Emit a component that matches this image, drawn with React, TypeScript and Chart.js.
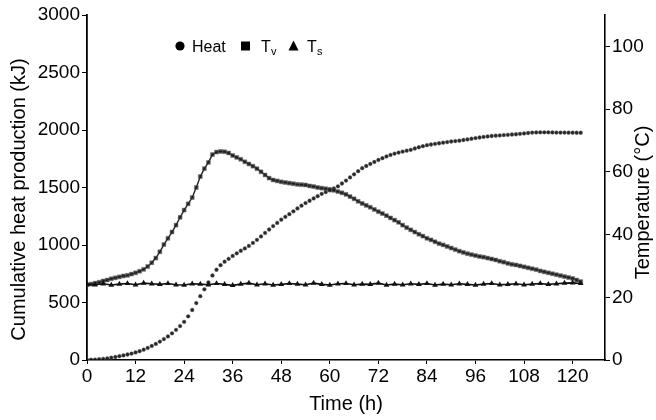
import { useEffect, useRef } from 'react';
import { Chart, registerables } from 'chart.js';
Chart.register(...registerables);

// Heat (cumulative heat production, kJ) read hourly from 0 h to 122 h
const heatValues = [
  0, 2, 4, 7, 10, 14, 20, 26, 33, 40, 48, 56, 66, 77, 90, 105, 122, 140, 160, 182,
  205, 232, 262, 295, 332, 380, 435, 495, 555, 615, 675, 735, 785, 825, 855, 880, 905, 928, 950, 970,
  992, 1018, 1045, 1075, 1105, 1135, 1165, 1192, 1220, 1245, 1268, 1293, 1318, 1342, 1365, 1385, 1405, 1425, 1445, 1460,
  1475, 1492, 1510, 1535, 1560, 1588, 1615, 1642, 1668, 1687, 1705, 1722, 1740, 1755, 1770, 1783, 1795, 1804, 1812, 1820,
  1828, 1839, 1850, 1859, 1868, 1874, 1880, 1885, 1890, 1895, 1900, 1904, 1907, 1913, 1918, 1924, 1930, 1935, 1940, 1944,
  1948, 1951, 1953, 1956, 1958, 1961, 1963, 1967, 1970, 1974, 1978, 1979, 1980, 1980, 1980, 1979, 1978, 1978, 1978, 1977,
  1977, 1976, 1976,
];

// Tv (°C) read hourly from 0 h to 122 h
const tvValues = [
  24.0, 24.2, 24.5, 24.8, 25.2, 25.5, 25.9, 26.2, 26.5, 26.8, 27.0, 27.4, 27.8, 28.3, 28.9, 29.8, 31.0, 32.5, 34.5, 36.8,
  38.8, 40.8, 43.0, 45.5, 47.8, 49.8, 51.8, 55.0, 58.5, 61.0, 63.0, 65.5, 66.3, 66.5, 66.4, 66.0, 65.2, 64.6, 64.0, 63.2,
  62.5, 61.8, 61.0, 60.0, 59.0, 58.0, 57.4, 57.1, 56.8, 56.6, 56.4, 56.2, 56.0, 55.9, 55.8, 55.5, 55.3, 55.0, 54.8, 54.6,
  54.4, 54.1, 53.7, 53.3, 52.8, 52.1, 51.4, 50.6, 49.9, 49.3, 48.7, 48.0, 47.3, 46.7, 46.0, 45.3, 44.6, 43.9, 43.0, 42.2,
  41.5, 40.8, 40.1, 39.5, 38.8, 38.3, 37.7, 37.1, 36.7, 36.2, 35.7, 35.2, 34.7, 34.3, 33.9, 33.6, 33.3, 33.0, 32.8, 32.5,
  32.2, 31.9, 31.5, 31.2, 30.8, 30.5, 30.3, 30.0, 29.7, 29.4, 29.1, 28.8, 28.4, 28.1, 27.8, 27.5, 27.2, 26.9, 26.6, 26.3,
  26.0, 25.5, 25.0,
];

// Ts (°C) read every 2 h from 0 h to 122 h
const tsValues = [
  24.1, 24.0, 24.3, 23.9, 24.2, 24.4, 24.0, 24.5, 24.3, 24.1, 24.4, 24.0, 23.9, 24.3, 24.2, 24.0, 24.4, 24.1, 23.8, 24.2,
  24.5, 24.0, 24.3, 23.9, 24.1, 24.4, 24.2, 24.0, 24.5, 24.1, 23.9, 24.3, 24.4, 24.0, 24.2, 24.1, 24.5, 23.9, 24.2, 24.0,
  24.3, 24.1, 24.4, 23.9, 24.2, 24.0, 24.3, 24.1, 23.9, 24.2, 24.4, 24.0, 24.1, 24.3, 24.0, 24.2, 24.4, 24.1, 24.3, 24.5,
  24.6, 24.4,
];

const heatStepHours = 1;
const tvStepHours = 1;
const tsStepHours = 2;

const xTicks = [0, 12, 24, 36, 48, 60, 72, 84, 96, 108, 120];
const leftTicks = [0, 500, 1000, 1500, 2000, 2500, 3000];
const rightTicks = [0, 20, 40, 60, 80, 100];

const FONT = "'Liberation Sans', Arial, Helvetica, sans-serif";
const INK = '#111';

const toPoints = (vals: number[], step: number) => vals.map((v, i) => ({ x: i * step, y: v }));
const plain = (v: any) => String(v);

const decorPlugin = {
  id: 'decor',
  afterDraw(chart: any) {
    const ctx = chart.ctx as CanvasRenderingContext2D;
    const { top, bottom, left, right } = chart.chartArea;
    ctx.save();
    ctx.fillStyle = '#000';
    ctx.strokeStyle = '#000';
    // axis titles
    ctx.font = `20px ${FONT}`;
    ctx.textAlign = 'center';
    ctx.textBaseline = 'middle';
    ctx.save();
    ctx.translate(19, (top + bottom) / 2 + 12);
    ctx.rotate(-Math.PI / 2);
    ctx.fillText('Cumulative heat production (kJ)', 0, 0);
    ctx.restore();
    ctx.save();
    ctx.translate(643, (top + bottom) / 2 + 15);
    ctx.rotate(-Math.PI / 2);
    ctx.fillText('Temperature (°C)', 0, 0);
    ctx.restore();
    ctx.fillText('Time (h)', (left + right) / 2, 404);

    // legend
    const ly = 46;
    ctx.beginPath();
    ctx.arc(180, ly, 4.6, 0, Math.PI * 2);
    ctx.fill();
    ctx.font = `16px ${FONT}`;
    ctx.textAlign = 'left';
    ctx.textBaseline = 'alphabetic';
    ctx.fillText('Heat', 192, ly + 6);
    ctx.fillRect(241, ly - 4.5, 9, 9);
    ctx.fillText('T', 261, ly + 6);
    ctx.font = `11px ${FONT}`;
    ctx.fillText('v', 271, ly + 9);
    ctx.beginPath();
    ctx.moveTo(293.5, ly - 5.5);
    ctx.lineTo(298.5, ly + 4.5);
    ctx.lineTo(288.5, ly + 4.5);
    ctx.closePath();
    ctx.fill();
    ctx.font = `16px ${FONT}`;
    ctx.fillText('T', 307, ly + 6);
    ctx.font = `11px ${FONT}`;
    ctx.fillText('s', 317, ly + 9);
    ctx.restore();
  },
};

export default function App() {
  const ref = useRef<HTMLCanvasElement | null>(null);
  useEffect(() => {
    document.body.style.margin = '0';
    const canvas = ref.current;
    if (!canvas) return;
    Chart.defaults.font.family = FONT;
    Chart.defaults.color = '#000';
    const chart = new Chart(canvas, {
      type: 'scatter',
      data: {
        datasets: [
          {
            label: 'Ts',
            data: toPoints(tsValues, tsStepHours),
            yAxisID: 'yR',
            showLine: true,
            borderColor: INK,
            borderWidth: 1.6,
            backgroundColor: INK,
            pointStyle: 'triangle',
            pointRadius: 3.3,
            pointBorderWidth: 0,
          },
          {
            label: 'Tv',
            data: toPoints(tvValues, tvStepHours),
            yAxisID: 'yR',
            showLine: true,
            borderColor: '#222',
            borderWidth: 1.4,
            backgroundColor: 'rgba(25,25,25,0.8)',
            pointStyle: 'rect',
            pointRadius: 2.8,
            pointBorderColor: 'rgba(100,100,100,0.55)',
            pointBorderWidth: 0.8,
          },
          {
            label: 'Heat',
            data: toPoints(heatValues, heatStepHours),
            yAxisID: 'yL',
            showLine: false,
            backgroundColor: 'rgba(15,15,15,0.9)',
            borderColor: 'rgba(110,110,110,0.5)',
            pointStyle: 'circle',
            pointRadius: 1.9,
            pointBorderWidth: 0.8,
          },
        ],
      },
      options: {
        responsive: false,
        animation: false,
        events: [],
        layout: { padding: { top: 15, left: 0, right: 0, bottom: 0 } },
        plugins: { legend: { display: false }, tooltip: { enabled: false }, title: { display: false } },
        scales: {
          x: {
            type: 'linear',
            min: 0,
            max: 128,
            afterBuildTicks: (s: any) => { s.ticks = xTicks.map((v) => ({ value: v })); },
            afterFit: (s: any) => { s.height = 60; },
            ticks: { font: { size: 19 }, color: '#000', padding: 1, maxRotation: 0, autoSkip: false, callback: plain },
            grid: { display: true, drawOnChartArea: false, drawTicks: true, tickLength: 4, color: '#000', lineWidth: 1 },
            border: { display: true, color: '#000', width: 1.6 },
          },
          yL: {
            type: 'linear',
            position: 'left',
            min: 0,
            max: 3000,
            afterBuildTicks: (s: any) => { s.ticks = leftTicks.map((v) => ({ value: v })); },
            afterFit: (s: any) => { s.width = 87; },
            ticks: { font: { size: 19 }, color: '#000', padding: 2, callback: plain },
            grid: { display: true, drawOnChartArea: false, drawTicks: true, tickLength: 5, color: '#000', lineWidth: 1 },
            border: { display: true, color: '#000', width: 1.8 },
          },
          yR: {
            type: 'linear',
            position: 'right',
            min: 0,
            max: 110,
            afterBuildTicks: (s: any) => { s.ticks = rightTicks.map((v) => ({ value: v })); },
            afterFit: (s: any) => { s.width = 51; },
            ticks: { font: { size: 19 }, color: '#000', padding: 2, callback: plain },
            grid: { display: true, drawOnChartArea: false, drawTicks: true, tickLength: 5, color: '#000', lineWidth: 1 },
            border: { display: true, color: '#000', width: 1.6 },
          },
        },
      },
      plugins: [decorPlugin],
    } as any);
    return () => chart.destroy();
  }, []);
  return (
    <div style={{ width: 656, height: 420 }}>
      <canvas ref={ref} width={656} height={420} style={{ display: 'block', width: 656, height: 420 }} />
    </div>
  );
}
